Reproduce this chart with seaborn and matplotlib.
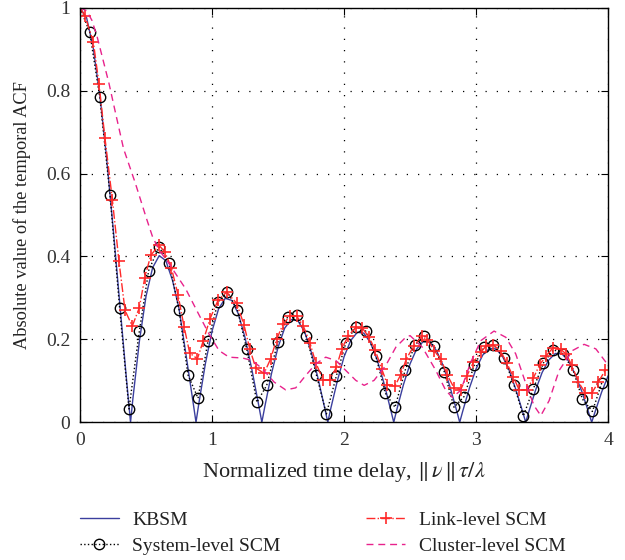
import numpy as np
import pandas as pd
import matplotlib
matplotlib.use("Agg")
import matplotlib.pyplot as plt
import seaborn as sns

# KBSM curve
kbsm_x = [0.0, 0.05, 0.10, 0.15, 0.20, 0.25, 0.30, 0.35, 0.3827, 0.40, 0.45, 0.50, 0.55, 0.60, 0.65,
          0.70, 0.75, 0.80, 0.85, 0.8786, 0.90, 0.95, 1.00, 1.05, 1.10, 1.15, 1.20, 1.25, 1.30, 1.35,
          1.3773, 1.40, 1.45, 1.50, 1.55, 1.60, 1.65, 1.70, 1.75, 1.80, 1.85, 1.8766, 1.90, 1.95,
          2.00, 2.05, 2.10, 2.15, 2.20, 2.25, 2.30, 2.35, 2.3763, 2.40, 2.45, 2.50, 2.55, 2.60,
          2.65, 2.70, 2.75, 2.80, 2.85, 2.8759, 2.90, 2.95, 3.00, 3.05, 3.10, 3.15, 3.20, 3.25,
          3.30, 3.35, 3.3758, 3.40, 3.45, 3.50, 3.55, 3.60, 3.65, 3.70, 3.75, 3.80, 3.85, 3.8756,
          3.90, 3.95, 4.00]
kbsm_y = [1.0, 0.976, 0.904, 0.790, 0.643, 0.472, 0.291, 0.111, 0.0, 0.055, 0.196, 0.304, 0.373,
          0.402, 0.390, 0.343, 0.274, 0.169, 0.062, 0.0, 0.045, 0.142, 0.220, 0.274, 0.299, 0.294,
          0.261, 0.204, 0.130, 0.047, 0.0, 0.038, 0.117, 0.181, 0.227, 0.248, 0.245, 0.219, 0.171,
          0.110, 0.039, 0.0, 0.034, 0.101, 0.158, 0.197, 0.217, 0.215, 0.192, 0.151, 0.097, 0.034,
          0.0, 0.031, 0.091, 0.141, 0.177, 0.195, 0.193, 0.173, 0.137, 0.088, 0.031, 0.0, 0.028,
          0.083, 0.129, 0.162, 0.178, 0.177, 0.159, 0.126, 0.080, 0.028, 0.0, 0.026, 0.077, 0.120,
          0.150, 0.166, 0.165, 0.148, 0.116, 0.075, 0.026, 0.0, 0.024, 0.072, 0.112]

# System-level SCM (circles)
sys_x = [0.0, 0.073, 0.15, 0.227, 0.30, 0.371, 0.45, 0.52, 0.598, 0.674, 0.75, 0.818, 0.894, 0.97,
         1.045, 1.116, 1.192, 1.263, 1.34, 1.414, 1.498, 1.573, 1.64, 1.715, 1.79, 1.866, 1.942,
         2.013, 2.089, 2.164, 2.24, 2.311, 2.386, 2.462, 2.538, 2.609, 2.684, 2.76, 2.833, 2.909,
         2.985, 3.06, 3.131, 3.212, 3.288, 3.358, 3.434, 3.51, 3.586, 3.661, 3.735, 3.805, 3.881,
         3.952]
sys_y = [1.0, 0.942, 0.784, 0.549, 0.276, 0.032, 0.221, 0.366, 0.423, 0.385, 0.272, 0.114, 0.058,
         0.197, 0.29, 0.314, 0.272, 0.176, 0.048, 0.089, 0.193, 0.255, 0.258, 0.207, 0.115, 0.02,
         0.112, 0.191, 0.231, 0.22, 0.161, 0.071, 0.036, 0.125, 0.187, 0.208, 0.183, 0.121, 0.036,
         0.062, 0.137, 0.181, 0.187, 0.155, 0.089, 0.015, 0.081, 0.143, 0.175, 0.165, 0.125, 0.056,
         0.026, 0.095]

# Link-level SCM (pluses)
link_x = [0.0, 0.038, 0.101, 0.144, 0.189, 0.245, 0.295, 0.341, 0.396, 0.449, 0.49, 0.536, 0.598,
          0.641, 0.692, 0.742, 0.788, 0.831, 0.889, 0.934, 0.985, 1.045, 1.11, 1.187, 1.242, 1.286,
          1.331, 1.394, 1.444, 1.49, 1.54, 1.591, 1.642, 1.692, 1.742, 1.785, 1.841, 1.89, 1.942,
          1.983, 2.033, 2.089, 2.139, 2.189, 2.235, 2.285, 2.328, 2.384, 2.43, 2.472, 2.53, 2.589,
          2.631, 2.682, 2.732, 2.783, 2.833, 2.884, 2.929, 2.98, 3.036, 3.078, 3.131, 3.187, 3.232,
          3.283, 3.326, 3.384, 3.434, 3.482, 3.532, 3.583, 3.641, 3.684, 3.725, 3.775, 3.826, 3.876,
          3.926, 3.977]
link_y = [1.0, 0.98, 0.918, 0.816, 0.686, 0.537, 0.389, 0.270, 0.232, 0.276, 0.348, 0.403, 0.427,
          0.412, 0.373, 0.308, 0.231, 0.167, 0.153, 0.197, 0.25, 0.294, 0.314, 0.287, 0.235, 0.177,
          0.131, 0.118, 0.153, 0.201, 0.238, 0.256, 0.256, 0.232, 0.191, 0.144, 0.103, 0.101, 0.133,
          0.177, 0.209, 0.229, 0.227, 0.205, 0.175, 0.129, 0.091, 0.087, 0.115, 0.153, 0.185, 0.207,
          0.199, 0.173, 0.153, 0.113, 0.083, 0.079, 0.111, 0.145, 0.169, 0.185, 0.187, 0.171, 0.143,
          0.109, 0.078, 0.078, 0.107, 0.139, 0.161, 0.18, 0.176, 0.164, 0.137, 0.097, 0.071, 0.07,
          0.097, 0.125]

# Cluster-level SCM (dashed)
clus_x = [0.0, 0.05, 0.09, 0.13, 0.17, 0.22, 0.27, 0.33, 0.42, 0.50, 0.55, 0.60, 0.67, 0.75, 0.80,
          0.90, 0.977, 1.053, 1.129, 1.23, 1.305, 1.381, 1.47, 1.558, 1.634, 1.71, 1.786, 1.861,
          1.937, 2.013, 2.089, 2.152, 2.227, 2.316, 2.392, 2.467, 2.50, 2.593, 2.695, 2.77, 2.82,
          2.884, 2.96, 3.036, 3.136, 3.225, 3.30, 3.377, 3.439, 3.49, 3.553, 3.629, 3.73, 3.818,
          3.907, 3.983, 4.0]
clus_y = [1.0, 0.993, 0.97, 0.93, 0.88, 0.817, 0.745, 0.66, 0.576, 0.495, 0.447, 0.415, 0.385,
          0.346, 0.322, 0.26, 0.213, 0.173, 0.157, 0.155, 0.149, 0.129, 0.097, 0.078, 0.083, 0.113,
          0.141, 0.157, 0.149, 0.125, 0.101, 0.089, 0.101, 0.137, 0.181, 0.205, 0.209, 0.181, 0.125,
          0.077, 0.06, 0.077, 0.145, 0.197, 0.22, 0.205, 0.165, 0.093, 0.04, 0.016, 0.052, 0.125,
          0.173, 0.188, 0.177, 0.145, 0.14]

sns.set_style("ticks")
plt.rcParams['font.family'] = ['Liberation Serif', 'DejaVu Serif']
plt.rcParams['mathtext.fontset'] = 'stix'

fig = plt.figure(figsize=(6.25, 5.6), dpi=100)
ax = fig.add_axes([0.128, 0.246, 0.845, 0.740])

blue = '#3b3f9e'
red = '#ff2a2a'
pink = '#e8228c'

sns.lineplot(x=kbsm_x, y=kbsm_y, ax=ax, color=blue, lw=1.0, label='KBSM',
             estimator=None, sort=False)
sns.lineplot(x=sys_x, y=sys_y, ax=ax, color='black', lw=1.0, linestyle=':', marker='o',
             markersize=7.5, markerfacecolor='none', markeredgecolor='black', markeredgewidth=1.0,
             markevery=list(range(1, len(sys_x))), label='System-level SCM',
             estimator=None, sort=False)
sns.lineplot(x=link_x, y=link_y, ax=ax, color=red, lw=1.0, linestyle='-.', marker='+',
             markersize=9, markeredgecolor=red, markeredgewidth=1.2,
             markevery=list(range(1, len(link_x))),
             label='Link-level SCM', estimator=None, sort=False)
sns.lineplot(x=clus_x, y=clus_y, ax=ax, color=pink, lw=1.0, linestyle=(0, (5, 3.5)),
             label='Cluster-level SCM', estimator=None, sort=False)

ax.set_xlim(0, 4)
ax.set_ylim(0, 1)
ax.set_xticks([0, 1, 2, 3, 4])
ax.set_xticklabels(['0', '1', '2', '3', '4'])
ax.set_yticks([0, 0.2, 0.4, 0.6, 0.8, 1])
ax.set_yticklabels(['0', '0.2', '0.4', '0.6', '0.8', '1'])
ax.grid(True, color='black', linestyle=(0, (1, 8)), linewidth=0.9)
for s in ax.spines.values():
    s.set_visible(True)
    s.set_color('black')
    s.set_linewidth(1.0)
ax.tick_params(direction='in', length=5, width=0.8, top=True, right=True,
               labelsize=14, colors='black', pad=7)
for lab in ax.get_xticklabels() + ax.get_yticklabels():
    lab.set_color('#333333')

ax.set_xlabel(r'Normalized time delay, $\|\,\nu\,\|\,\tau/\lambda$', fontsize=16,
              color='#222222', labelpad=8)
ax.set_ylabel('Absolute value of the temporal ACF', fontsize=13.2, color='#222222',
              labelpad=11)

handles, labels = ax.get_legend_handles_labels()
ax.get_legend().remove()
leg = fig.legend(handles, labels, ncol=2, loc='lower left', bbox_to_anchor=(0.1, -0.022),
                 frameon=False, fontsize=14, handlelength=2.0, columnspacing=4.4,
                 labelspacing=0.42, handletextpad=0.7, labelcolor='#222222')
for ln in leg.get_lines():
    ln.set_markevery([1])

fig.savefig('out.png', dpi=100)
